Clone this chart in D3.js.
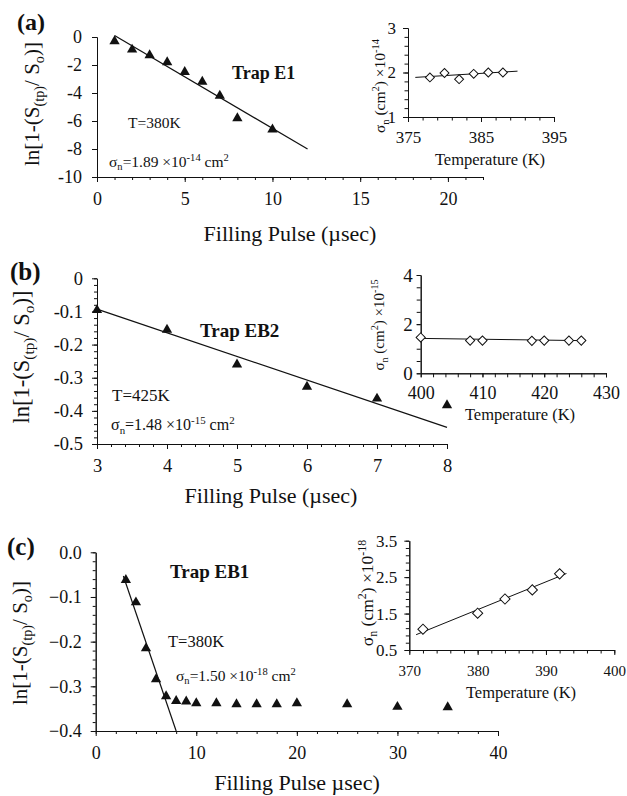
<!DOCTYPE html>
<html><head><meta charset="utf-8">
<script src="https://cdn.jsdelivr.net/npm/d3@7"></script>
<style>
html,body{margin:0;padding:0;background:#fff;}
svg{display:block;font-family:"Liberation Serif","Times New Roman",serif;}
</style></head>
<body>
<svg id="chart" width="627" height="796"></svg>
<script>
// ---------- DATA ----------
// Panel (a) Trap E1
const aPulse = [1, 2, 3, 4, 5, 6, 7, 8, 10];
const aLnS   = [-0.3, -0.9, -1.3, -1.8, -2.5, -3.2, -4.2, -5.8, -6.6];
const aFitX  = [1, 12];
const aFitY  = [0.1, -8.0];
const aTemp  = [378, 380, 382, 384, 386, 388];
const aSigma = [1.89, 1.99, 1.85, 1.97, 2.0, 2.0];
const aSigFitX = [376, 390];
const aSigFitY = [1.89, 2.03];
const aXTicks = [0, 5, 10, 15, 20];
const aYTicks = [0, -2, -4, -6, -8, -10];
const aInXTicks = [375, 385, 395];
const aInYTicks = [1, 2, 3];

// Panel (b) Trap EB2
const bPulse = [3, 4, 5, 6, 7, 8];
const bLnS   = [-0.096, -0.155, -0.26, -0.327, -0.363, -0.383];
const bFitX  = [3, 8];
const bFitY  = [-0.093, -0.45];
const bTemp  = [400, 408, 410, 418, 420, 424, 426];
const bSigma = [1.46, 1.33, 1.33, 1.32, 1.33, 1.33, 1.33];
const bSigFitX = [400, 426];
const bSigFitY = [1.42, 1.33];
const bXTicks = [3, 4, 5, 6, 7, 8];
const bYTicks = [0, -0.1, -0.2, -0.3, -0.4, -0.5];
const bInXTicks = [400, 410, 420, 430];
const bInYTicks = [0, 2, 4];

// Panel (c) Trap EB1
const cPulse = [3, 4, 5, 6, 7, 8, 9, 10, 12, 14, 16, 18, 20, 25, 30, 35];
const cLnS   = [-0.062, -0.112, -0.215, -0.284, -0.322, -0.333, -0.334, -0.338, -0.338, -0.34, -0.34, -0.34, -0.338, -0.34, -0.346, -0.347];
const cFitX  = [2.75, 8];
const cFitY  = [-0.053, -0.4];
const cTemp  = [372, 380, 384, 388, 392];
const cSigma = [1.07, 1.51, 1.9, 2.15, 2.59];
const cSigFitX = [371, 393];
const cSigFitY = [0.92, 2.6];
const cXTicks = [0, 10, 20, 30, 40];
const cYTicks = [0, -0.1, -0.2, -0.3, -0.4];
const cInXTicks = [370, 380, 390, 400];
const cInYTicks = [0.5, 1.5, 2.5, 3.5];

// ---------- HELPERS ----------
const svg = d3.select('#chart');
const INK = '#111';

function rich(sel, x, y, parts, size, opts = {}) {
  const t = sel.append('text')
    .attr('font-size', size)
    .attr('fill', INK)
    .attr('font-weight', opts.bold ? 'bold' : 'normal')
    .attr('text-anchor', opts.anchor || 'start');
  if (opts.rotate) t.attr('transform', `translate(${x},${y}) rotate(-90)`);
  else t.attr('x', x).attr('y', y);
  let cur = 0;
  parts.forEach(p => {
    const s = typeof p === 'string' ? p : p[0];
    const k = typeof p === 'string' ? 'n' : p[1];
    const shift = k === 'sub' ? (opts.subShift || 0.22) * size : k === 'sup' ? -0.4 * size : 0;
    t.append('tspan')
      .attr('dy', shift - cur)
      .attr('font-size', k === 'n' ? size : size * (opts.small || 0.68))
      .text(s);
    cur = shift;
  });
  return t;
}

function axes(g, x, y, cfg) {
  const xr = x.range(), yr = y.range();
  const x0 = xr[0], yb = yr[0];
  // minor ticks
  const gxm = g.append('g').attr('transform', `translate(0,${yb})`)
    .call(d3.axisBottom(x).tickValues(cfg.xMinor).tickSize(cfg.minorLen).tickFormat('').tickSizeOuter(0));
  const gym = g.append('g').attr('transform', `translate(${x0},0)`)
    .call(d3.axisLeft(y).tickValues(cfg.yMinor).tickSize(cfg.minorLen).tickFormat('').tickSizeOuter(0));
  // major ticks
  const gx = g.append('g').attr('transform', `translate(0,${yb})`)
    .call(d3.axisBottom(x).tickValues(cfg.xTicks).tickSize(cfg.majorLen).tickPadding(cfg.xPad)
      .tickFormat(cfg.xFmt).tickSizeOuter(0));
  const gy = g.append('g').attr('transform', `translate(${x0},0)`)
    .call(d3.axisLeft(y).tickValues(cfg.yTicks).tickSize(cfg.majorLen).tickPadding(cfg.yPad)
      .tickFormat(cfg.yFmt).tickSizeOuter(0));
  [gxm, gym, gx, gy].forEach(a => {
    a.attr('font-family', null).attr('font-size', null);
    a.selectAll('path,line').attr('stroke', INK).attr('stroke-width', 1);
  });
  gx.selectAll('text').attr('font-size', cfg.xFont).attr('fill', INK);
  gy.selectAll('text').attr('font-size', cfg.yFont).attr('fill', INK);
}

function triangles(g, x, y, xs, ys, size) {
  g.selectAll(null).data(xs.map((d, i) => [d, ys[i]])).enter().append('path')
    .attr('d', d3.symbol(d3.symbolTriangle, size)())
    .attr('transform', d => `translate(${x(d[0])},${y(d[1])})`)
    .attr('fill', INK);
}
function diamonds(g, x, y, xs, ys, size) {
  g.selectAll(null).data(xs.map((d, i) => [d, ys[i]])).enter().append('path')
    .attr('d', d3.symbol(d3.symbolSquare, size)())
    .attr('transform', d => `translate(${x(d[0])},${y(d[1])}) rotate(45)`)
    .attr('fill', '#fff').attr('stroke', INK).attr('stroke-width', 1);
}
function fitLine(g, x, y, xs, ys, w) {
  g.append('path')
    .datum(xs.map((d, i) => [d, ys[i]]))
    .attr('d', d3.line().x(d => x(d[0])).y(d => y(d[1])))
    .attr('fill', 'none').attr('stroke', INK).attr('stroke-width', w || 1.2);
}
const fmt = d => String(d);
const yLab = ['ln[1-(S', ['(tp)', 'sub'], '/ S', ['o', 'sub'], ')]'];
const sigLab = e => ['σ', ['n', 'sub'], ' (cm', ['2', 'sup'], ') ×10', [e, 'sup']];
const sigText = (v, e) => ['σ', ['n', 'sub'], `=${v} ×10`, [e, 'sup'], ' cm', ['2', 'sup']];

// ================= PANEL (a) =================
{
  const g = svg.append('g');
  const x = d3.scaleLinear().domain([0, 22]).range([97, 483]);
  const y = d3.scaleLinear().domain([-10, 0]).range([177, 37]);
  axes(g, x, y, {
    xTicks: aXTicks, yTicks: aYTicks, xMinor: d3.range(0, 22.01, 1), yMinor: [],
    majorLen: 5, minorLen: 3, xPad: 10, yPad: 10, xFmt: fmt, yFmt: fmt, xFont: 18, yFont: 18
  });
  fitLine(g, x, y, aFitX, aFitY);
  triangles(g, x, y, aPulse, aLnS, 46);
  rich(g, 17, 30, ['(a)'], 24, { bold: true });
  rich(g, 232, 79, ['Trap E1'], 18, { bold: true });
  rich(g, 128, 128, ['T=380K'], 15.5);
  rich(g, 109, 167, sigText('1.89', '-14'), 15.5);
  rich(g, 39, 104, yLab, 21, { rotate: true, anchor: 'middle' });
  rich(g, 290, 241, ['Filling Pulse (µsec)'], 22, { anchor: 'middle' });

  // inset
  const xi = d3.scaleLinear().domain([375, 395]).range([408, 554]);
  const yi = d3.scaleLinear().domain([1, 3]).range([117, 28]);
  axes(g, xi, yi, {
    xTicks: aInXTicks, yTicks: aInYTicks, xMinor: d3.range(375, 395.01, 2), yMinor: d3.range(1, 3.01, 0.2),
    majorLen: 5, minorLen: 3.5, xPad: 9, yPad: 7, xFmt: fmt, yFmt: fmt, xFont: 17, yFont: 17
  });
  fitLine(g, xi, yi, aSigFitX, aSigFitY, 1);
  diamonds(g, xi, yi, aTemp, aSigma, 40);
  rich(g, 490, 165, ['Temperature (K)'], 16.5, { anchor: 'middle' });
  rich(g, 385, 86, sigLab('-14'), 15.5, { rotate: true, anchor: 'middle', subShift: 0.25 });
}

// ================= PANEL (b) =================
{
  const g = svg.append('g');
  const x = d3.scaleLinear().domain([3, 8]).range([97, 447]);
  const y = d3.scaleLinear().domain([-0.5, 0]).range([444, 278.3]);
  axes(g, x, y, {
    xTicks: bXTicks, yTicks: bYTicks, xMinor: d3.range(3, 8.001, 0.2), yMinor: d3.range(-0.5, 0.0001, 0.02),
    majorLen: 5, minorLen: 3, xPad: 10, yPad: 9, xFmt: fmt, yFmt: fmt, xFont: 18.5, yFont: 18.5
  });
  fitLine(g, x, y, bFitX, bFitY);
  triangles(g, x, y, bPulse, bLnS, 46);
  rich(g, 10, 280, ['(b)'], 25, { bold: true });
  rich(g, 200, 337, ['Trap EB2'], 19, { bold: true });
  rich(g, 112, 401, ['T=425K'], 17);
  rich(g, 111, 430, sigText('1.48', '-15'), 16);
  rich(g, 29, 357, yLab, 22.5, { rotate: true, anchor: 'middle' });
  rich(g, 271, 503, ['Filling Pulse (µsec)'], 22, { anchor: 'middle' });

  // inset
  const xi = d3.scaleLinear().domain([400, 430]).range([420.7, 606]);
  const yi = d3.scaleLinear().domain([0, 4]).range([373.3, 275]);
  axes(g, xi, yi, {
    xTicks: bInXTicks, yTicks: bInYTicks, xMinor: d3.range(400, 430.01, 2), yMinor: d3.range(0, 4.01, 0.5),
    majorLen: 4, minorLen: 4, xPad: 9, yPad: 4, xFmt: fmt, yFmt: fmt, xFont: 18, yFont: 19
  });
  fitLine(g, xi, yi, bSigFitX, bSigFitY, 1);
  diamonds(g, xi, yi, bTemp, bSigma, 42);
  rich(g, 520, 420, ['Temperature (K)'], 16.5, { anchor: 'middle' });
  rich(g, 384, 325, sigLab('-15'), 15, { rotate: true, anchor: 'middle', subShift: 0.25 });
}

// ================= PANEL (c) =================
{
  const g = svg.append('g');
  const x = d3.scaleLinear().domain([0, 40]).range([95.7, 498]);
  const y = d3.scaleLinear().domain([-0.4, 0]).range([731, 552.3]);
  axes(g, x, y, {
    xTicks: cXTicks, yTicks: cYTicks, xMinor: d3.range(0, 40.01, 2), yMinor: d3.range(-0.4, 0.0001, 0.02),
    majorLen: 5, minorLen: 3, xPad: 10, yPad: 9, xFmt: fmt, yFmt: d3.format('.1f'), xFont: 18, yFont: 18
  });
  fitLine(g, x, y, cFitX, cFitY);
  triangles(g, x, y, cPulse, cLnS, 46);
  rich(g, 7, 555, ['(c)'], 25, { bold: true });
  rich(g, 170, 578, ['Trap EB1'], 19, { bold: true });
  rich(g, 168, 647, ['T=380K'], 16.5);
  rich(g, 176, 681, sigText('1.50', '-18'), 15.5);
  rich(g, 27, 643, yLab, 21, { rotate: true, anchor: 'middle' });
  rich(g, 297, 790, ['Filling Pulse µsec)'], 22, { anchor: 'middle' });

  // inset
  const xi = d3.scaleLinear().domain([370, 400]).range([409.3, 614.3]);
  const yi = d3.scaleLinear().domain([0.5, 3.5]).range([650, 540.7]);
  axes(g, xi, yi, {
    xTicks: cInXTicks, yTicks: cInYTicks, xMinor: d3.range(370, 400.01, 2), yMinor: d3.range(0.5, 3.51, 0.2),
    majorLen: 5, minorLen: 3.5, xPad: 10, yPad: 7, xFmt: fmt, yFmt: d3.format('.1f'), xFont: 15, yFont: 17
  });
  fitLine(g, xi, yi, cSigFitX, cSigFitY, 1);
  diamonds(g, xi, yi, cTemp, cSigma, 52);
  rich(g, 521, 698, ['Temperature (K)'], 16.5, { anchor: 'middle' });
  rich(g, 373, 593, sigLab('-18'), 17.5, { rotate: true, anchor: 'middle', subShift: 0.25 });
}
</script>
</body></html>
